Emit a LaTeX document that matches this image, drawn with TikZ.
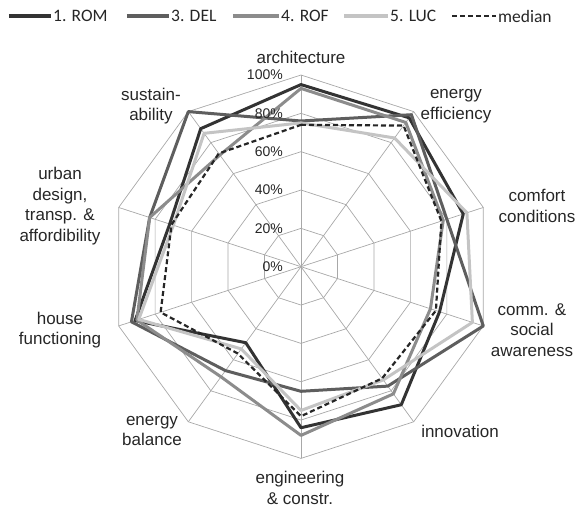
\documentclass[tikz,border=0pt]{standalone}
\usepackage{fontspec}
\setmainfont{Liberation Sans}
\newfontfamily\legendfont{Carlito}
\usetikzlibrary{positioning}

\definecolor{romgray}{gray}{0.2}
\definecolor{delgray}{gray}{0.37}
\definecolor{rofgray}{gray}{0.55}
\definecolor{lucgray}{gray}{0.77}
\definecolor{gridgray}{gray}{0.66}

\tikzset{
  gridline/.style={gridgray, line width=0.7pt},
  series/.style={line width=3pt, line join=round},
  rom/.style={series, romgray},
  del/.style={series, delgray},
  rof/.style={series, rofgray},
  luc/.style={series, lucgray},
  median/.style={line width=2.2pt, black!85, line join=round, dash pattern=on 5pt off 3pt},
  keyline/.style={line width=4pt},
  axislabel/.style={font=\fontsize{17}{20.5}\selectfont, align=center, text=black!85},
  ticklabel/.style={font=\fontsize{14}{16}\selectfont, anchor=east, inner sep=1pt, text=black!85},
  legendlabel/.style={font=\legendfont\fontsize{17.5}{20}\selectfont, anchor=west, inner sep=2pt, text=black!85}
}

% one closed line through the ten axes, values in percent
\newcommand{\radarline}[2]{%
  \foreach \v [count=\i from 0] in {#2} {\coordinate (p\i) at ({90-36*\i}:\v);}
  \draw[#1] (p0) -- (p1) -- (p2) -- (p3) -- (p4) -- (p5) -- (p6) -- (p7) -- (p8) -- (p9) -- cycle;}

\begin{document}
\begin{tikzpicture}[x=1pt, y=1pt]
  \useasboundingbox (-301,-244.3) rectangle (274,266.7);

  \begin{scope}[x=1.917pt, y=1.917pt]
    % Grid
    \foreach \a in {90,54,...,-234} \draw[gridline] (0,0) -- (\a:100);
    \foreach \r in {20,40,...,100}
      \draw[gridline] (90:\r) \foreach \a in {54,18,...,-234} {-- (\a:\r)} -- cycle;

    % Series
    \radarline{rom}{95,96,89,76,89,84,49,91,72,89}
    \radarline{del}{76,98,80,100,77,65,67,93,83,100}
    \radarline{rof}{93,93,78,71,82,88,71,90,83,72}
    \radarline{luc}{75,83,91,94,73,75,53,89,70,86}
    \radarline{median}{74,91,77,74,72,78,56,77,71,73}
  \end{scope}

  % Tick labels
  \foreach \r in {0,20,...,100} \node[ticklabel] (tick\r) at (-17,\r*1.917) {\r\%};

  % Axis labels
  \node[axislabel] (architecture) at (0,209.7) {architecture};
  \node[axislabel] (energyeff) at (155,160.7) {energy\\efficiency};
  \node[axislabel] (comfort) at (236,60.7) {comfort\\conditions};
  \node[axislabel, inner xsep=1pt] (comm) at (231,-63.3) {comm. \&\\social\\awareness};
  \node[axislabel] (innovation) at (159,-164.3) {innovation};
  \node[axislabel] (engineering) at (-1,-221.3) {engineering\\\& constr.};
  \node[axislabel] (balance) at (-149,-164.3) {energy\\balance};
  \node[axislabel] (house) at (-241,-63.3) {house\\functioning};
  \node[axislabel] (urban) at (-241,60.7) {urban\\design,\\transp. \&\\affordibility};
  \node[axislabel] (sustain) at (-150,160.7) {sustain-\\ability};

  % Legend
  \coordinate (romkey) at (-292,250.7);
  \node[legendlabel] (romtext) at (-250,250.7) {1. ROM};
  \coordinate (delkey) at (-174,250.7);
  \node[legendlabel] (deltext) at (-132,250.7) {3. DEL};
  \coordinate (rofkey) at (-68,250.7);
  \node[legendlabel] (roftext) at (-22,250.7) {4. ROF};
  \coordinate (luckey) at (43,250.7);
  \node[legendlabel] (luctext) at (87,250.7) {5. LUC};
  \coordinate (mediankey) at (151,250.7);
  \node[legendlabel] (mediantext) at (195,250.7) {median};

  \draw[keyline, romgray] (romkey) -- (romtext.west);
  \draw[keyline, delgray] (delkey) -- (deltext.west);
  \draw[keyline, rofgray] (rofkey) -- (roftext.west);
  \draw[keyline, lucgray] (luckey) -- (luctext.west);
  \draw[median] (mediankey) -- (mediantext.west);
\end{tikzpicture}
\end{document}
